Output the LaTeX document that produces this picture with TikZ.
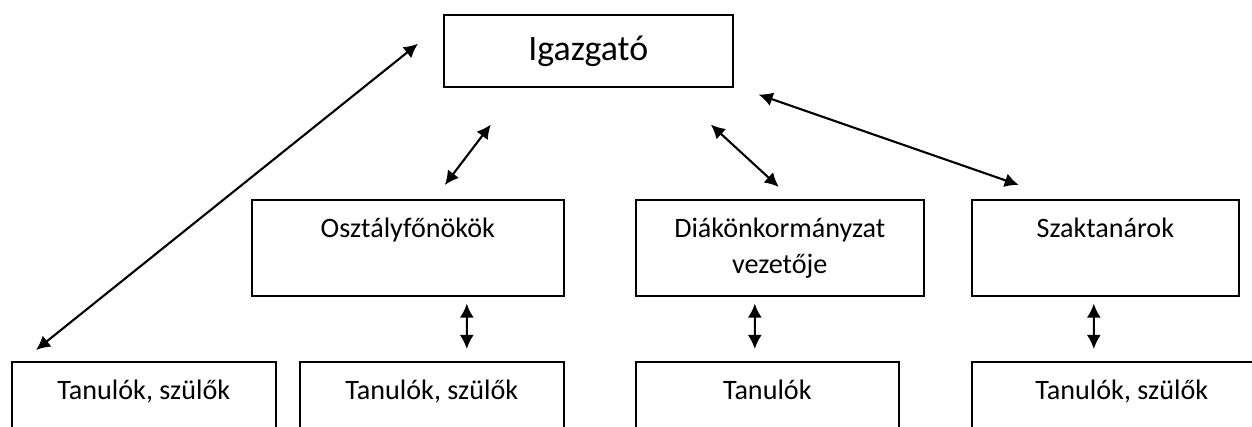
\documentclass[tikz,border=0pt]{standalone}
\usepackage{fontspec}
\setmainfont{Carlito}
\usetikzlibrary{arrows.meta,calc}
\tikzset{my box/.style={
  draw,
  line width=1.1pt,
  anchor=north west,
  inner xsep=0pt,
  inner ysep=0pt,
  align=center,
  text height=27pt,
  text depth=41.3pt,
  font=\fontsize{20}{25.6}\selectfont
  },
  my arrow/.style={
  line width=1.5pt,
  {Latex[length=10pt,width=10pt]}-{Latex[length=10pt,width=10pt]}
  }
}

\begin{document}
\begin{tikzpicture}[x=0.025cm,y=0.025cm]
    \useasboundingbox (0,0) rectangle (1252,427);

    % top
    \node[my box,minimum width=7.225cm,text height=32.7pt,text depth=18.5pt,font=\fontsize{25.5}{31}\selectfont] (igaz) at (443,413) {Igazgató};

    % middle row
    \node[my box,minimum width=7.8cm] (osz) at (251,228) {Osztályfőnökök};
    \node[my box,minimum width=7.2cm,text height=52.6pt,text depth=15.7pt] (diak) at (635,228) {Diákönkormányzat\\vezetője};
    \node[my box,minimum width=6.675cm] (szak) at (971,228) {Szaktanárok};

    % bottom row
    \foreach \x/\w/\t [count=\n] in {11/6.6/{Tanulók, szülők},299/6.6/{Tanulók, szülők},635/6.575/Tanulók,971/7.5/{Tanulók, szülők}}
        \node[my box,minimum width=\w cm] (b\n) at (\x,66) {\t};

    \draw[my arrow] ([shift={(25,11)}]b1.north west) -- ([shift={(-25,7)}]igaz.west);
    \draw[my arrow] ([shift={(37,14)}]osz.north) -- ([shift={(-97.5,-37)}]igaz.south);
    \draw[my arrow] ([shift={(-1,12)}]diak.north) -- ([shift={(122.5,-37)}]igaz.south);
    \draw[my arrow] ([shift={(-86.5,14)}]szak.north) -- ([shift={(25,-7)}]igaz.south east);

    \draw[my arrow] ([shift={(59,-7)}]osz.south) -- ([shift={(35,12)}]b2.north);
    \draw[my arrow] ([shift={(-25,-7)}]diak.south) -- ([shift={(-12.5,12)}]b3.north);
    \draw[my arrow] ([shift={(-11.5,-7)}]szak.south) -- ([shift={(-28,12)}]b4.north);
\end{tikzpicture}
\end{document}
